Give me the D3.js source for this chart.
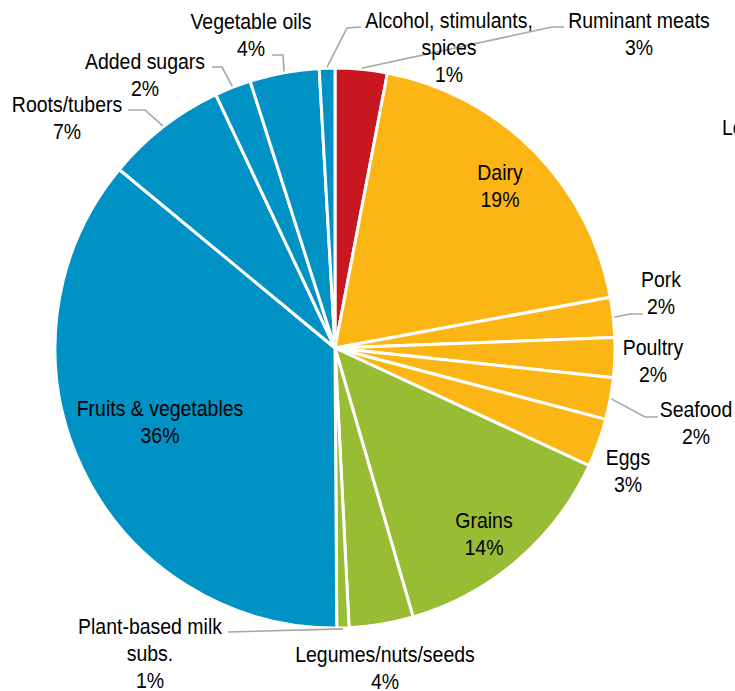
<!DOCTYPE html>
<html>
<head>
<meta charset="utf-8">
<script src="https://cdn.jsdelivr.net/npm/d3@7"></script>
<style>
	body { margin: 0; background: #fff; }
	svg { display: block; }
	text { font-family: "Liberation Sans", Arial, sans-serif; font-size: 22px; fill: #000; }
</style>
</head>
<body>
<div id="chart"></div>
<script>
// slices clockwise from 12 o'clock
var categories = ["Ruminant meats", "Dairy", "Pork", "Poultry", "Seafood", "Eggs",
	"Grains", "Legumes/nuts/seeds", "Plant-based milk\nsubs.",
	"Fruits & vegetables", "Roots/tubers", "Added sugars", "Vegetable oils",
	"Alcohol, stimulants,\nspices"];
var values = [3.0, 19.1, 2.3, 2.3, 2.4, 2.8, 13.6, 3.7, 0.7, 36.1, 7.0, 2.1, 4.0, 0.9];
var groups = ["ruminant", "animal", "animal", "animal", "animal", "animal",
	"grain", "grain", "grain", "plant", "plant", "plant", "plant", "plant"];
var groupColors = { ruminant: "#c8171f", animal: "#fbb616", grain: "#98bc34", plant: "#0092c4" };

var width = 735, height = 691,
	cx = 335, cy = 348, radius = 280,
	squeeze = 0.885, lineH = 27;

// label anchor (centre x, first baseline) and leader elbow points
var labelPos = [
	{ x: 639, y: 28, leader: [[552, 27], [564, 27]] },
	{ x: 500, y: 180 },
	{ x: 661, y: 287, leader: [[630, 314], [643, 314]] },
	{ x: 653, y: 355 },
	{ x: 696, y: 417, leader: [[645, 417], [658, 417]] },
	{ x: 628, y: 465 },
	{ x: 484, y: 528 },
	{ x: 385, y: 662 },
	{ x: 150, y: 634, leader: [[228, 632]] },
	{ x: 160, y: 416 },
	{ x: 67, y: 112, leader: [[145, 110], [128, 110]] },
	{ x: 145, y: 69, leader: [[222, 67], [212, 67]] },
	{ x: 251, y: 29, leader: [[283, 55], [272, 55]] },
	{ x: 449, y: 28, leader: [[347, 28], [361, 27]] }
];

var data = categories.map(function(c, i) {
	return { name: c, value: values[i], group: groups[i], pos: labelPos[i] };
});

var svg = d3.select("#chart").append("svg")
	.attr("width", width)
	.attr("height", height);

var pie = d3.pie().sort(null).value(function(d) { return d.value; });
var arcs = pie(data);

var arc = d3.arc().innerRadius(0).outerRadius(radius);
var edgeArc = d3.arc().innerRadius(radius).outerRadius(radius);

var g = svg.append("g").attr("transform", "translate(" + cx + "," + cy + ")");

g.selectAll("path.slice")
	.data(arcs)
	.enter().append("path")
	.attr("class", "slice")
	.attr("d", arc)
	.style("fill", function(d) { return groupColors[d.data.group]; })
	.style("stroke", "#fff")
	.style("stroke-width", 3)
	.style("stroke-linejoin", "round");

// leader lines from the slice edge
var line = d3.line();
svg.selectAll("path.leader")
	.data(arcs.filter(function(d) { return d.data.pos.leader; }))
	.enter().append("path")
	.attr("class", "leader")
	.attr("d", function(d) {
		var a = (d.startAngle + d.endAngle) / 2;
		var start = [cx + Math.sin(a) * (radius + 1), cy - Math.cos(a) * (radius + 1)];
		return line([start].concat(d.data.pos.leader));
	})
	.style("fill", "none")
	.style("stroke", "#a6a6a6")
	.style("stroke-width", 1.6);

var labels = svg.selectAll("text.label")
	.data(arcs)
	.enter().append("text")
	.attr("class", "label")
	.attr("text-anchor", "middle")
	.attr("transform", function(d) {
		return "translate(" + d.data.pos.x + "," + d.data.pos.y + ") scale(" + squeeze + ",1)";
	});

labels.each(function(d) {
	var lines = d.data.name.split("\n").concat([Math.round(d.data.value) + "%"]);
	d3.select(this).selectAll("tspan")
		.data(lines)
		.enter().append("tspan")
		.attr("x", 0)
		.attr("y", function(t, i) { return i * lineH; })
		.text(function(t) { return t; });
});

// legend text cut off at the right edge of the original
svg.append("text")
	.attr("transform", "translate(722,135) scale(" + squeeze + ",1)")
	.text("Legend");
</script>
</body>
</html>
